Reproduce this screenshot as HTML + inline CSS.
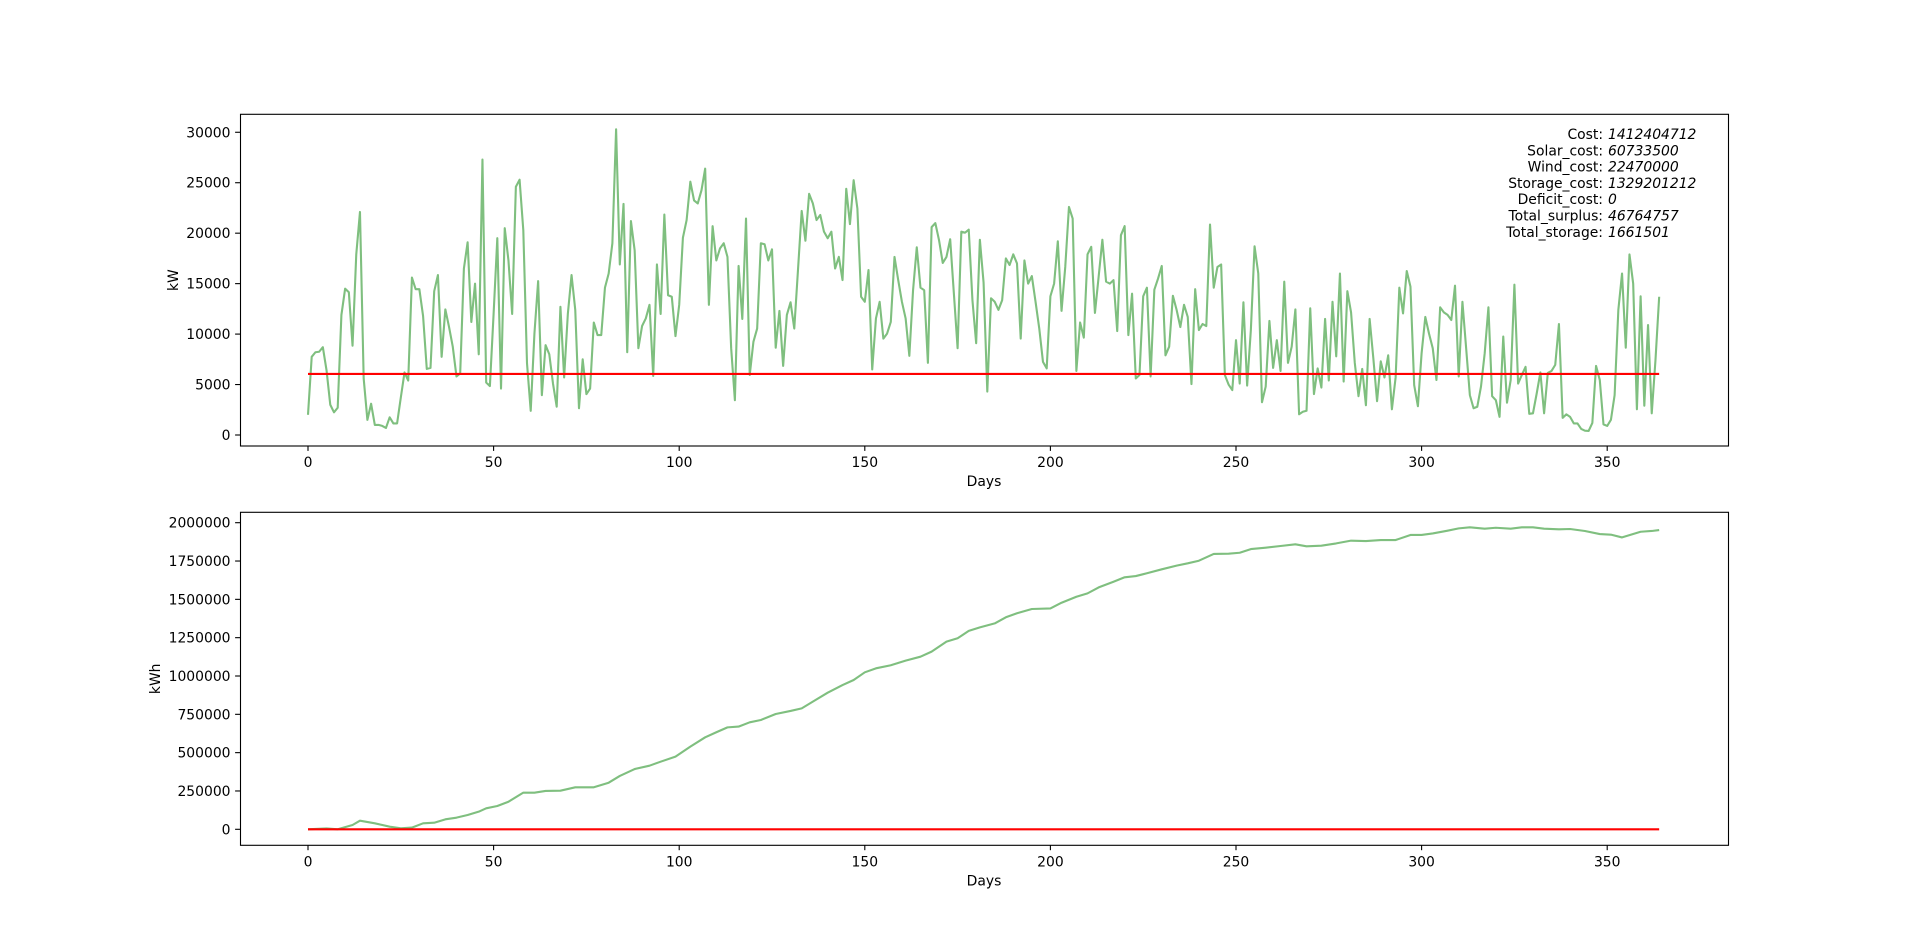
<!DOCTYPE html>
<html><head><meta charset="utf-8">
<style>
html,body{margin:0;padding:0;background:#fff;}
svg{display:block;font-family:"DejaVu Sans","Liberation Sans",sans-serif;}
</style></head>
<body>
<svg id="fig" width="1920" height="949" viewBox="0 0 1920 949" xmlns="http://www.w3.org/2000/svg">
<rect width="1920" height="949" fill="#fff"/>
<g id="top"></g>
<g id="bot"></g>
<g font-size="13.9" fill="#000">
<text x="1603" y="139" text-anchor="end">Cost:</text><text x="1608" y="139" font-style="italic">1412404712</text>
<text x="1603" y="155.3" text-anchor="end">Solar_cost:</text><text x="1608" y="155.3" font-style="italic">60733500</text>
<text x="1603" y="171.6" text-anchor="end">Wind_cost:</text><text x="1608" y="171.6" font-style="italic">22470000</text>
<text x="1603" y="187.9" text-anchor="end">Storage_cost:</text><text x="1608" y="187.9" font-style="italic">1329201212</text>
<text x="1603" y="204.2" text-anchor="end">Deficit_cost:</text><text x="1608" y="204.2" font-style="italic">0</text>
<text x="1603" y="220.5" text-anchor="end">Total_surplus:</text><text x="1608" y="220.5" font-style="italic">46764757</text>
<text x="1603" y="236.8" text-anchor="end">Total_storage:</text><text x="1608" y="236.8" font-style="italic">1661501</text>
</g>
</svg>
<script>
const powerValues = [2000,7750,8200,8250,8700,6400,3000,2250,2700,11900,14500,14150,8850,17900,22100,5600,1500,3100,1000,1000,900,700,1750,1150,1150,3700,6200,5400,15600,14450,14450,11800,6550,6650,14250,15850,7750,12450,10700,8750,5800,6100,16500,19100,11200,15000,8000,27300,5200,4850,12000,19500,4600,20500,17300,12000,24600,25300,20300,7100,2400,10050,15250,3950,8900,8000,5100,2800,12700,5700,12000,15850,12400,2650,7500,4050,4600,11150,9900,9900,14600,16000,19000,30300,16900,22900,8200,21200,18300,8600,10800,11550,12900,5850,16900,12000,21850,13850,13700,9800,12900,19550,21300,25100,23250,22950,24250,26400,12900,20700,17300,18500,19000,17650,8600,3450,16750,11500,21450,5950,9250,10550,19000,18900,17300,18400,8650,12300,6850,11900,13150,10550,16350,22200,19250,23900,22950,21300,21800,20150,19500,20150,16500,17650,15350,24400,20900,25250,22450,13700,13200,16350,6500,11550,13200,9550,10050,11200,17650,15350,13200,11550,7850,14350,18600,14600,14350,7150,20600,21000,19300,17050,17650,19400,14000,8600,20150,20050,20350,13350,9100,19350,15100,4300,13550,13200,12400,13350,17500,16850,17900,17000,9550,17300,15000,15750,13200,10550,7250,6600,13750,15000,19200,12300,16650,22600,21450,6350,11150,9650,17900,18650,12100,15700,19350,15200,15000,15350,10300,19800,20700,9900,14000,5600,5950,13750,14600,5800,14400,15500,16750,7900,8750,13800,12400,10700,12900,11700,5050,14450,10400,11000,10800,20850,14600,16650,16900,5950,5000,4450,9400,5100,13150,4900,10400,18700,16000,3250,4800,11300,6650,9400,6350,15200,7150,8750,12450,2050,2300,2400,12550,4050,6600,4700,11500,5400,13200,7800,16000,5300,14250,12150,7150,3850,6550,2950,11500,7600,3350,7300,5700,7900,2550,5700,14600,12050,16250,14700,4950,2850,8100,11700,10050,8600,5450,12650,12150,11900,11400,14800,5800,13200,8600,3950,2650,2800,4800,8100,12650,3850,3450,1800,9750,3200,5450,14900,5100,5950,6750,2100,2150,4100,6200,2150,6150,6350,6950,11000,1700,2050,1800,1150,1150,600,430,400,1200,6850,5450,1050,900,1500,3950,12400,16000,8650,17900,15000,2550,13750,2900,10900,2150,7400,13700];
const demandValue = 6050;
const storageDays = [0,5,8,12,14,18,22,25,28,31,34,37,40,43,46,48,51,54,58,61,64,68,72,77,81,84,88,92,95,99,103,107,110,113,116,119,122,126,130,133,136,140,144,147,150,153,157,161,165,168,172,175,178,181,185,188,191,195,200,203,207,210,213,217,220,223,226,230,234,237,240,244,248,251,254,258,262,266,269,273,277,281,285,289,293,297,300,303,307,310,313,317,320,324,327,330,333,337,340,344,348,351,354,357,359,362,364];
const storageValues = [0,6000,0,28000,56000,39000,17000,6500,11000,39000,43000,65000,76000,93000,115000,137000,152000,180000,239000,239000,250000,252000,274000,274000,304000,348000,393000,415000,441000,474000,539000,600000,633000,665000,670000,698000,713000,752000,772000,789000,833000,891000,941000,974000,1024000,1050000,1070000,1100000,1126000,1159000,1224000,1246000,1294000,1317000,1343000,1383000,1409000,1437000,1441000,1478000,1517000,1539000,1578000,1615000,1644000,1652000,1670000,1696000,1720000,1735000,1752000,1796000,1798000,1804000,1828000,1837000,1848000,1859000,1846000,1850000,1865000,1883000,1880000,1887000,1887000,1920000,1920000,1930000,1948000,1963000,1970000,1961000,1967000,1961000,1970000,1970000,1961000,1957000,1959000,1946000,1926000,1922000,1904000,1926000,1941000,1946000,1952000];
const storageLimit = 0;
const xTicks = [0,50,100,150,200,250,300,350];
const topYTicks = [0,5000,10000,15000,20000,25000,30000];
const botYTicks = [0,250000,500000,750000,1000000,1250000,1500000,1750000,2000000];

const NS='http://www.w3.org/2000/svg';
function mk(tag,attrs,parent){const e=document.createElementNS(NS,tag);for(const k in attrs)e.setAttribute(k,attrs[k]);parent.appendChild(e);return e;}
const xS=d=>308+d*3.712;
const yTop=v=>435-v*0.010091;
const yBot=v=>829.3-v*0.0001533;

function axes(g,top,bottom,yS,yTicks,ylab,ylx,prefix){
  const frame=mk('rect',{x:240.5,y:top,width:1488,height:bottom-top,fill:'none',stroke:'#000','stroke-width':1.1},g);
  
  
  xTicks.forEach(t=>{
    const x=xS(t);
    const l=mk('line',{x1:x,x2:x,y1:bottom,y2:bottom+4.9,stroke:'#000','stroke-width':1.1},g);
    
    
    const tx=mk('text',{x:x,y:bottom+21,'text-anchor':'middle','font-size':13.9},g);
    tx.textContent=t;
    
    
  });
  yTicks.forEach(t=>{
    const y=yS(t);
    const l=mk('line',{x1:235.1,x2:240,y1:y,y2:y,stroke:'#000','stroke-width':1.1},g);
    
    
    const tx=mk('text',{x:230.5,y:y+5,'text-anchor':'end','font-size':13.9},g);
    tx.textContent=t;
    
    
  });
  const xl=mk('text',{x:984,y:bottom+40,'text-anchor':'middle','font-size':13.9},g);
  xl.textContent='Days';
  
  
  const cy=(top+bottom)/2;
  const yl=mk('text',{x:ylx,y:cy,'text-anchor':'middle','font-size':13.9,transform:`rotate(-90 ${ylx} ${cy})`},g);
  yl.textContent=ylab;
  
  
}

const gt=document.getElementById('top');
axes(gt,114.3,446,yTop,topYTicks,'kW',178,'power');
let p=powerValues.map((v,i)=>(i?'L':'M')+xS(i).toFixed(2)+' '+yTop(v).toFixed(2)).join('');
const pl=mk('path',{d:p,fill:'none',stroke:'#7fbf7f','stroke-width':2.1,'stroke-linejoin':'round'},gt);


const dl=mk('line',{x1:xS(0),x2:xS(powerValues.length-1),y1:yTop(demandValue),y2:yTop(demandValue),stroke:'#ff0000','stroke-width':2.1},gt);



const gb=document.getElementById('bot');
axes(gb,512.3,845.3,yBot,botYTicks,'kWh',160,'storage');
let q=storageValues.map((v,i)=>(i?'L':'M')+xS(storageDays[i]).toFixed(2)+' '+yBot(v).toFixed(2)).join('');
const sl=mk('path',{d:q,fill:'none',stroke:'#7fbf7f','stroke-width':2.1,'stroke-linejoin':'round'},gb);


const zl=mk('line',{x1:xS(0),x2:xS(364),y1:yBot(storageLimit),y2:yBot(storageLimit),stroke:'#ff0000','stroke-width':2.1},gb);


</script>
</body></html>
